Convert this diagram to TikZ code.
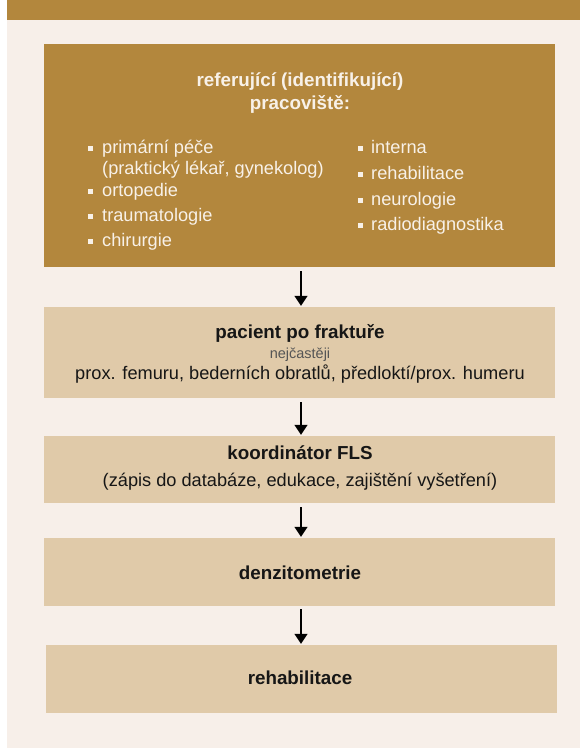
\documentclass[tikz,border=0pt]{standalone}
\usepackage{fontspec}
\setmainfont{Liberation Sans}
\usetikzlibrary{arrows.meta}
\definecolor{gold}{HTML}{B3873D}
\definecolor{panel}{HTML}{F7EFE9}
\definecolor{lightbox}{HTML}{E0CAA9}
\definecolor{paletext}{HTML}{F8F1E8}
\definecolor{darktext}{HTML}{161616}
\definecolor{greytext}{HTML}{555555}
\tikzset{
  goldbox/.style={fill=gold, draw=none, inner sep=0pt},
  lbox/.style={fill=lightbox, draw=none, inner sep=0pt},
  wtxt/.style={text=paletext, inner sep=0pt, font=\fontsize{18.2}{21}\selectfont},
  wtitle/.style={text=paletext, inner sep=0pt, font=\fontsize{18.8}{22}\selectfont\bfseries},
  btitle/.style={text=darktext, inner sep=0pt, font=\fontsize{18.8}{22}\selectfont\bfseries},
  btxt/.style={text=darktext, inner sep=0pt, font=\fontsize{18.2}{21}\selectfont},
  small/.style={text=greytext, inner sep=0pt, font=\fontsize{14.5}{17}\selectfont},
  bullet/.style={fill=paletext, draw=none, minimum size=5pt, inner sep=0pt},
  arr/.style={draw=black, line width=1.3pt, -{Triangle[width=13pt,length=10pt]}}
}
\begin{document}
\begin{tikzpicture}[x=1pt,y=-1pt]
\useasboundingbox (0,0) rectangle (580,748);
\fill[panel] (7,0) rectangle (580,748);
\fill[gold] (7,0) rectangle (580,20);
% boxes
\node[goldbox, minimum width=511pt, minimum height=223pt] (b1) at (299.5,155.5) {};
\node[lbox, minimum width=511pt, minimum height=91pt] (b2) at (299.5,352.5) {};
\node[lbox, minimum width=511pt, minimum height=67pt] (b3) at (299.5,469.5) {};
\node[lbox, minimum width=511pt, minimum height=68pt] (b4) at (299.5,572) {};
\node[lbox, minimum width=511pt, minimum height=68pt] (b5) at (301,679) {};
% box 1 text
\node[wtitle, anchor=mid] (t1a) at (300,84) {referující (identifikující)};
\node[wtitle, anchor=mid] (t1b) at (300,107) {pracoviště:};
\node[bullet] (bl1) at (90.5,148) {};
\node[wtxt, anchor=mid west] (l1) at (102,150.5) {primární péče};
\node[wtxt, anchor=mid west] (l1b) at (102,171.5) {(praktický lékař, gynekolog)};
\node[bullet] (bl2) at (90.5,191) {};
\node[wtxt, anchor=mid west] (l2) at (102,193.5) {ortopedie};
\node[bullet] (bl3) at (90.5,216) {};
\node[wtxt, anchor=mid west] (l3) at (102,218.5) {traumatologie};
\node[bullet] (bl4) at (90.5,241.5) {};
\node[wtxt, anchor=mid west] (l4) at (102,244) {chirurgie};
\node[bullet] (br1) at (360.5,148) {};
\node[wtxt, anchor=mid west] (r1) at (371,150.5) {interna};
\node[bullet] (br2) at (360.5,174) {};
\node[wtxt, anchor=mid west] (r2) at (371,176.5) {rehabilitace};
\node[bullet] (br3) at (360.5,200) {};
\node[wtxt, anchor=mid west] (r3) at (371,202.5) {neurologie};
\node[bullet] (br4) at (360.5,225) {};
\node[wtxt, anchor=mid west] (r4) at (371,227.5) {radiodiagnostika};
% box 2 text
\node[btitle, anchor=mid] (t2a) at (300,336) {pacient po fraktuře};
\node[small, anchor=mid] (t2b) at (300,355.5) {nejčastěji};
\node[btxt, anchor=mid] (t2c) at (300,377) {prox. femuru, bederních obratlů, předloktí/prox. humeru};
% box 3 text
\node[btitle, anchor=mid] (t3a) at (300,457) {koordinátor FLS};
\node[btxt, anchor=mid] (t3b) at (300,484) {(zápis do databáze, edukace, zajištění vyšetření)};
% box 4, 5 text
\node[btitle, anchor=mid] (t4) at (300,577) {denzitometrie};
\node[btitle, anchor=mid] (t5) at (300,682) {rehabilitace};
% arrows
\draw[arr, shorten <=4pt, shorten >=1pt] ([xshift=1.5pt]b1.south) -- ([xshift=1.5pt]b2.north);
\draw[arr, shorten <=4pt, shorten >=1pt] ([xshift=1.5pt]b2.south) -- ([xshift=1.5pt]b3.north);
\draw[arr, shorten <=4pt, shorten >=1pt] ([xshift=1.5pt]b3.south) -- ([xshift=1.5pt]b4.north);
\draw[arr, shorten <=3pt, shorten >=1pt] ([xshift=1.5pt]b4.south) -- (b5.north);
\end{tikzpicture}
\end{document}
